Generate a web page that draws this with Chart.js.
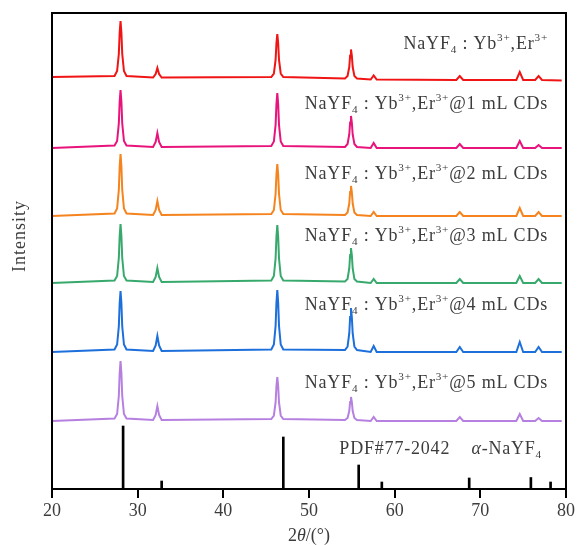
<!DOCTYPE html>
<html>
<head>
<meta charset="utf-8">
<script src="https://cdn.jsdelivr.net/npm/chart.js@4.4.1/dist/chart.umd.min.js"></script>
<style>
  html, body { margin: 0; padding: 0; background: #fff; }
  canvas { display: block; }
</style>
</head>
<body>
<canvas id="xrd" width="577" height="545"></canvas>
<script>
// 2theta sample positions shared by all patterns
const twoTheta = [20,
  27.3, 27.6, 27.8, 27.9, 28.0, 28.1, 28.2, 28.4, 28.7,
  31.8, 32.1, 32.3, 32.5, 32.8,
  45.6, 45.9, 46.1, 46.2, 46.3, 46.4, 46.5, 46.7, 47.0,
  54.2, 54.5, 54.7, 54.8, 54.9, 55.0, 55.1, 55.3, 55.6,
  57.2, 57.55, 57.9,
  67.2, 67.6, 68.0,
  74.2, 74.6, 75.0,
  76.4, 76.8, 77.2,
  79.5];

// stacked intensities (a.u., already offset)
const pure = [412, 413, 418, 435, 456.5, 468, 456.5, 435, 418, 413, 411.5, 415, 421, 415, 411.5,
  412, 415.5, 429, 446, 455, 446, 429, 415.5, 412, 410.5, 413, 422, 433.5, 439.5, 433.5, 422, 413, 410.5,
  409.5, 413.5, 409.5, 409, 413, 409, 409, 417, 409, 409, 413, 409, 408.5];
const cds1 = [341, 343.5, 348, 365.5, 387.5, 399, 387.5, 365.5, 348, 343.5, 342, 347, 356, 347, 342,
  343, 347.5, 364, 385, 396, 385, 364, 347.5, 343, 342, 345, 354.5, 366.5, 373, 366.5, 354.5, 345, 342,
  341, 346, 341, 341, 345, 341, 341, 348, 341, 341, 344, 341, 341];
const cds2 = [273, 275.5, 280.5, 299, 322.5, 335, 322.5, 299, 280.5, 275.5, 274, 279, 288, 279, 274,
  275, 279, 295, 314.5, 325, 314.5, 295, 279, 275, 274, 276.5, 285.5, 297, 303, 297, 285.5, 276.5, 274,
  273, 277, 273, 273, 277, 273, 273, 281, 273, 273, 277, 273, 273];
const cds3 = [206, 208.5, 213, 231, 253, 265, 253, 231, 213, 208.5, 207, 212, 221, 212, 207,
  208.5, 213, 230.5, 252.5, 264, 252.5, 230.5, 213, 208.5, 207.5, 210, 220.5, 234, 241, 234, 220.5, 210, 207.5,
  206, 210, 206, 206, 210, 206, 206, 213, 206, 206, 210, 206, 206];
const cds4 = [137, 139.5, 144.5, 162.5, 186, 198, 186, 162.5, 144.5, 139.5, 138, 143.5, 153, 143.5, 138,
  139.5, 144.5, 163, 186.5, 199, 186.5, 163, 144.5, 139.5, 139, 142.5, 155.5, 172, 181, 172, 155.5, 142.5, 139,
  137, 143, 137, 137, 142, 137, 137, 147, 137, 137, 142, 137, 137];
const cds5 = [68, 70.5, 75, 93, 116, 128, 116, 93, 75, 70.5, 69, 74, 83, 74, 69,
  70, 73.5, 86.5, 103, 112, 103, 86.5, 73.5, 70, 69, 71, 78, 87, 92, 87, 78, 71, 69,
  68, 72, 68, 68, 72, 68, 68, 75, 68, 68, 71, 68, 68];

// PDF#77-2042 reference lines
const pdfPos = [28.3, 32.8, 47.0, 55.8, 58.5, 68.7, 75.9, 78.2];
const pdfInt = [63, 8, 52, 24, 7, 11, 11.5, 7];

const sampleLabels = [
  'NaYF_4 : Yb^3+,Er^3+',
  'NaYF_4 : Yb^3+,Er^3+@1 mL CDs',
  'NaYF_4 : Yb^3+,Er^3+@2 mL CDs',
  'NaYF_4 : Yb^3+,Er^3+@3 mL CDs',
  'NaYF_4 : Yb^3+,Er^3+@4 mL CDs',
  'NaYF_4 : Yb^3+,Er^3+@5 mL CDs'
];
const pdfLabel = 'PDF#77-2042    *α*-NaYF_4';

const seriesList = [pure, cds1, cds2, cds3, cds4, cds5];
const colors = ['#f01414', '#e8147c', '#f5841e', '#38a96c', '#1d6fdc', '#b680e0'];
// label baselines in y units, right edge in degrees
const labelY = [440, 380, 310, 248, 179, 101];
const labelRight = 77.9;

const SERIF = '"Liberation Serif", "DejaVu Serif", serif';
const TEXT_COLOR = '#3c3c3c';

function drawRich(ctx, str, xRight, yBase, size) {
    const parts = [];
    const re = /(_[0-9])|(\^[0-9+]+)|(\*[^*]+\*)|([^_^*]+)/g;
    let m;
    while ((m = re.exec(str)) !== null) {
        if (m[1]) parts.push({t: m[1].slice(1), kind: 'sub'});
        else if (m[2]) parts.push({t: m[2].slice(1), kind: 'sup'});
        else if (m[3]) parts.push({t: m[3].slice(1, -1), kind: 'it'});
        else parts.push({t: m[4], kind: 'n'});
    }
    const fontFor = (p) => {
        if (p.kind === 'sub' || p.kind === 'sup') return (size * 0.62).toFixed(1) + 'px ' + SERIF;
        if (p.kind === 'it') return 'italic ' + size + 'px ' + SERIF;
        return size + 'px ' + SERIF;
    };
    ctx.save();
    ctx.letterSpacing = '0.8px';
    let total = 0;
    parts.forEach(p => { ctx.font = fontFor(p); p.w = ctx.measureText(p.t).width; total += p.w; });
    let x = xRight - total;
    ctx.fillStyle = TEXT_COLOR;
    ctx.textBaseline = 'alphabetic';
    ctx.textAlign = 'left';
    parts.forEach(p => {
        ctx.font = fontFor(p);
        let dy = 0;
        if (p.kind === 'sub') dy = size * 0.22;
        if (p.kind === 'sup') dy = -size * 0.42;
        ctx.fillText(p.t, x, yBase + dy);
        x += p.w;
    });
    ctx.restore();
}

const decorPlugin = {
    id: 'decor',
    afterDraw(chart) {
        const {ctx, chartArea: a, scales: {x, y}} = chart;
        ctx.save();
        ctx.strokeStyle = '#000';
        ctx.lineWidth = 2;
        ctx.strokeRect(a.left, a.top, a.right - a.left, a.bottom - a.top);
        ctx.restore();

        sampleLabels.forEach((lab, i) => {
            drawRich(ctx, lab, x.getPixelForValue(labelRight), y.getPixelForValue(labelY[i]), 18);
        });
        drawRich(ctx, pdfLabel, x.getPixelForValue(77.2), y.getPixelForValue(35), 18);

        // axis titles
        ctx.save();
        ctx.fillStyle = TEXT_COLOR;
        ctx.textBaseline = 'alphabetic';
        ctx.font = '18px ' + SERIF;
        const t1 = '2', t2 = 'θ', t3 = '/(°)';
        const w1 = ctx.measureText(t1).width;
        const w3 = ctx.measureText(t3).width;
        ctx.font = 'italic 18px ' + SERIF;
        const w2 = ctx.measureText(t2).width;
        let tx = (a.left + a.right) / 2 - (w1 + w2 + w3) / 2;
        const ty = a.bottom + 52;
        ctx.font = '18px ' + SERIF;
        ctx.fillText(t1, tx, ty);
        ctx.font = 'italic 18px ' + SERIF;
        ctx.fillText(t2, tx + w1, ty);
        ctx.font = '18px ' + SERIF;
        ctx.fillText(t3, tx + w1 + w2, ty);

        ctx.translate(a.left - 32, a.top + 223);
        ctx.rotate(-Math.PI / 2);
        ctx.textAlign = 'center';
        ctx.textBaseline = 'middle';
        ctx.letterSpacing = '1px';
        ctx.fillText('Intensity', 0, 0);
        ctx.restore();
    }
};

const datasets = seriesList.map((vals, i) => ({
    type: 'line',
    data: twoTheta.map((t, k) => ({x: t, y: vals[k]})),
    borderColor: colors[i],
    borderWidth: 2,
    pointRadius: 0,
    tension: 0,
    fill: false
}));
datasets.push({
    type: 'bar',
    data: pdfPos.map((p, k) => ({x: p, y: pdfInt[k]})),
    backgroundColor: '#000',
    barThickness: 2
});

new Chart(document.getElementById('xrd'), {
    data: {datasets},
    options: {
        responsive: false,
        animation: false,
        layout: {padding: {top: 13, right: 11, left: 0, bottom: 0}},
        plugins: {legend: {display: false}, tooltip: {enabled: false}},
        scales: {
            x: {
                type: 'linear',
                min: 20,
                max: 80,
                offset: false,
                afterFit(scale) { scale.height = 56; },
                ticks: {stepSize: 10, color: TEXT_COLOR, padding: 2, font: {family: SERIF, size: 18}},
                grid: {drawOnChartArea: false, offset: false, color: '#000', lineWidth: 2, tickLength: 9},
                border: {display: false}
            },
            y: {
                min: 0,
                max: 476,
                afterFit(scale) { scale.width = 52; },
                ticks: {display: false},
                grid: {display: false},
                border: {display: false}
            }
        }
    },
    plugins: [decorPlugin]
});
</script>
</body>
</html>
